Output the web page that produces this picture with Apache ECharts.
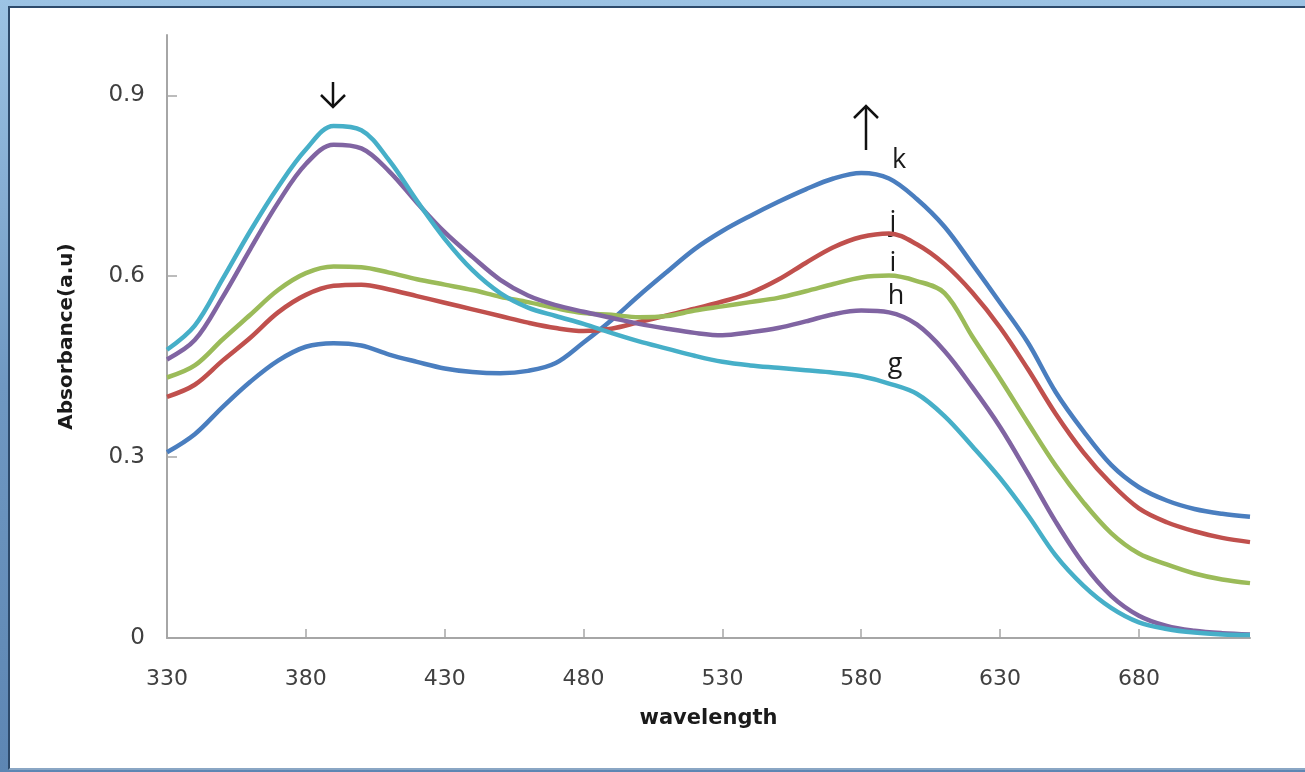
<!DOCTYPE html>
<html>
<head>
<meta charset="utf-8">
<script src="https://cdn.jsdelivr.net/npm/echarts@6/dist/echarts.min.js"></script>
<style>
  html, body { margin: 0; padding: 0; }
  body {
    width: 1305px; height: 772px; overflow: hidden; position: relative;
    background: linear-gradient(180deg, #9cc3e4 0%, #6f98c2 50%, #5d86b3 100%);
  }
  #frame {
    position: absolute; left: 8px; top: 6px; width: 1297px; height: 760px;
    background: #fff; border-left: 2px solid #2d4a6b; border-top: 2px solid #2d4a6b;
    border-bottom: 2px solid #8aa6c4;
  }
  #main { position: absolute; left: 0; top: 0; width: 1305px; height: 772px; }
</style>
</head>
<body>
<div id="frame"></div>
<div id="main"></div>
<script>
  // wavelength (nm), every 10 nm
  var wavelength = [330, 340, 350, 360, 370, 380, 390, 400, 410, 420,
    430, 440, 450, 460, 470, 480, 490, 500, 510, 520,
    530, 540, 550, 560, 570, 580, 590, 600, 610, 620,
    630, 640, 650, 660, 670, 680, 690, 700, 710, 720]

  // absorbance
  var curveK = [0.308, 0.338, 0.383, 0.425, 0.46, 0.483, 0.489, 0.485, 0.47, 0.458,
    0.447, 0.441, 0.439, 0.443, 0.456, 0.49, 0.527, 0.568, 0.607, 0.645,
    0.675, 0.70, 0.723, 0.744, 0.762, 0.771, 0.762, 0.728, 0.682, 0.62,
    0.556, 0.49, 0.408, 0.343, 0.287, 0.25, 0.228, 0.214, 0.206, 0.201]
  var curveJ = [0.40, 0.42, 0.46, 0.498, 0.54, 0.569, 0.584, 0.586, 0.578, 0.567,
    0.556, 0.545, 0.534, 0.523, 0.514, 0.509, 0.513, 0.524, 0.535, 0.546,
    0.558, 0.572, 0.594, 0.622, 0.648, 0.665, 0.671, 0.653, 0.62, 0.573,
    0.515, 0.446, 0.372, 0.308, 0.256, 0.215, 0.192, 0.177, 0.166, 0.159]
  var curveI = [0.432, 0.452, 0.495, 0.536, 0.577, 0.605, 0.616, 0.615, 0.606, 0.595,
    0.586, 0.577, 0.566, 0.557, 0.547, 0.539, 0.536, 0.532, 0.534, 0.543,
    0.55, 0.557, 0.564, 0.575, 0.587, 0.598, 0.601, 0.592, 0.572, 0.50,
    0.43, 0.357, 0.286, 0.225, 0.174, 0.14, 0.122, 0.107, 0.097, 0.091]
  var curveH = [0.462, 0.494, 0.565, 0.645, 0.722, 0.786, 0.818, 0.812, 0.774, 0.722,
    0.673, 0.632, 0.594, 0.568, 0.552, 0.541, 0.531, 0.521, 0.513, 0.506,
    0.502, 0.507, 0.514, 0.525, 0.537, 0.543, 0.54, 0.52, 0.476, 0.416,
    0.35, 0.273, 0.193, 0.123, 0.07, 0.037, 0.02, 0.012, 0.008, 0.006]
  var curveG = [0.478, 0.518, 0.595, 0.675, 0.748, 0.81, 0.849, 0.842, 0.792, 0.725,
    0.662, 0.61, 0.572, 0.548, 0.534, 0.521, 0.506, 0.492, 0.48, 0.468,
    0.458, 0.452, 0.448, 0.444, 0.44, 0.434, 0.422, 0.405, 0.368, 0.318,
    0.265, 0.204, 0.137, 0.087, 0.05, 0.026, 0.015, 0.009, 0.006, 0.005]

  var xTicks = [330, 380, 430, 480, 530, 580, 630, 680]
  var yTicks = [0, 0.3, 0.6, 0.9]

  var seriesList = [
    { name: 'k', data: curveK, color: '#4a7ebf' },
    { name: 'j', data: curveJ, color: '#c0504d' },
    { name: 'i', data: curveI, color: '#9bbb59' },
    { name: 'h', data: curveH, color: '#8064a2' },
    { name: 'g', data: curveG, color: '#46afc8' }
  ]

  var chart = echarts.init(document.getElementById('main'), null, { renderer: 'canvas' })

  function pairs(vals) {
    return wavelength.map(function (w, i) { return [w, vals[i]] })
  }

  // simple annotation arrow: shaft + open head
  function arrow(x, yTail, yHead) {
    var d = yHead > yTail ? -12 : 12
    return [
      { type: 'line', shape: { x1: x, y1: yTail, x2: x, y2: yHead }, style: { stroke: '#111', lineWidth: 2.5 } },
      { type: 'polyline', shape: { points: [[x - 12, yHead + d], [x, yHead], [x + 12, yHead + d]] }, style: { stroke: '#111', lineWidth: 2.5, fill: null } }
    ]
  }

  function letter(txt, x, y) {
    return {
      type: 'text', x: x, y: y,
      style: { text: txt, fill: '#1a1a1a', fontSize: 27, fontFamily: 'Open Sans', align: 'center', verticalAlign: 'middle' }
    }
  }

  chart.setOption({
    animation: false,
    backgroundColor: 'transparent',
    grid: { left: 167, right: 55, top: 35, bottom: 134, containLabel: false },
    xAxis: {
      type: 'value',
      min: 330,
      max: 720,
      name: 'wavelength',
      nameLocation: 'middle',
      nameGap: 70,
      nameTextStyle: { fontFamily: 'DejaVu Sans', fontWeight: 'bold', fontSize: 21, color: '#1a1a1a' },
      splitLine: { show: false },
      axisLine: { lineStyle: { color: '#a6a6a6', width: 2 } },
      axisTick: { inside: true, length: 9, customValues: xTicks.slice(1), lineStyle: { color: '#a6a6a6', width: 1.5 } },
      axisLabel: { customValues: xTicks, margin: 30, fontFamily: 'DejaVu Sans', fontSize: 22, color: '#404040' }
    },
    yAxis: {
      type: 'value',
      min: 0,
      max: 1,
      name: 'Absorbance(a.u)',
      nameLocation: 'middle',
      nameGap: 90,
      nameTextStyle: { fontFamily: 'DejaVu Sans', fontWeight: 'bold', fontSize: 20, color: '#1a1a1a' },
      splitLine: { show: false },
      axisLine: { show: true, lineStyle: { color: '#a6a6a6', width: 2 } },
      axisTick: { show: true, inside: true, length: 10, customValues: yTicks, lineStyle: { color: '#a6a6a6', width: 1.5 } },
      axisLabel: { customValues: yTicks, margin: 22, fontFamily: 'DejaVu Sans', fontSize: 23, color: '#404040' }
    },
    series: seriesList.map(function (s) {
      return {
        name: s.name,
        type: 'line',
        data: pairs(s.data),
        smooth: 0.35,
        showSymbol: false,
        lineStyle: { color: s.color, width: 4.5 },
        itemStyle: { color: s.color }
      }
    }),
    graphic: [].concat(
      arrow(333, 82, 107),
      arrow(866, 150, 106),
      [
        letter('k', 899, 160),
        letter('j', 893, 222),
        letter('i', 893, 263),
        letter('h', 896, 296),
        letter('g', 895, 364)
      ]
    )
  })
</script>
</body>
</html>
